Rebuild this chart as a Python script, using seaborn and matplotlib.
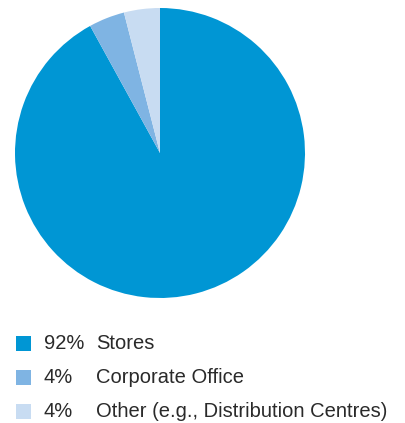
import matplotlib
matplotlib.use("Agg")
import matplotlib.pyplot as plt
import seaborn as sns
from matplotlib.patches import Rectangle

categories = ["Stores", "Corporate Office", "Other (e.g., Distribution Centres)"]
values = [92, 4, 4]
pct_labels = ["92%", "4%", "4%"]
colors = ["#0096d4", "#7fb4e3", "#c8dcf2"]

sns.set_theme(style="white")
plt.rcParams['font.family'] = ['Liberation Sans', 'DejaVu Sans']

W, H = 406, 423
fig = plt.figure(figsize=(W / 100, H / 100), dpi=100)
fig.patch.set_facecolor("white")

cx, cy, r = 160, 153, 145
ax = fig.add_axes([(cx - r) / W, (H - cy - r) / H, 2 * r / W, 2 * r / H])
ax.pie(values, colors=colors, startangle=90, counterclock=False,
       wedgeprops=dict(linewidth=0), radius=1)
ax.set_xlim(-1, 1)
ax.set_ylim(-1, 1)
ax.set_axis_off()

rows_y = [343, 377, 411]
for i, (cat, pct, col) in enumerate(zip(categories, pct_labels, colors)):
    y = rows_y[i]
    fig.add_artist(Rectangle((16 / W, (H - y - 7.5) / H), 15 / W, 15 / H,
                             transform=fig.transFigure, facecolor=col,
                             edgecolor="none"))
    fig.text(44 / W, (H - y) / H, pct, fontsize=14.5, color="#2a2a2a",
             va="center", ha="left")
    fig.text(96 / W, (H - y) / H, cat, fontsize=14.5, color="#2a2a2a",
             va="center", ha="left")

fig.savefig("out.png", dpi=100)
